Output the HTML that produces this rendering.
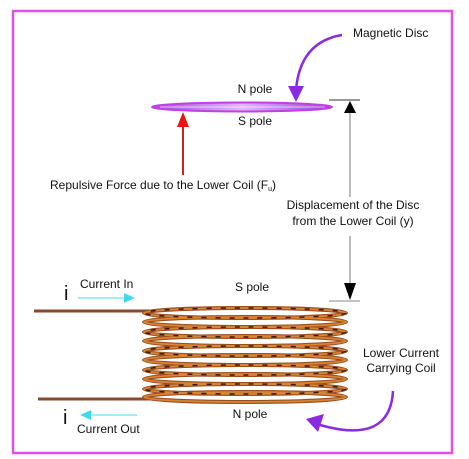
<!DOCTYPE html>
<html><head><meta charset="utf-8"><style>
html,body{margin:0;padding:0;background:#fff}
svg{display:block}
text{font-family:"Liberation Sans",sans-serif;fill:#111}
</style></head><body>
<svg width="469" height="459" viewBox="0 0 469 459">
<defs>
<linearGradient id="disc" x1="0" x2="1" y1="0" y2="0">
<stop offset="0" stop-color="#a64de0"/><stop offset="0.5" stop-color="#e6b4ff"/><stop offset="1" stop-color="#9a3fe0"/>
</linearGradient>
</defs>
<rect x="13" y="11" width="439" height="442" fill="#fff" stroke="#e050e8" stroke-width="2.5"/>

<g>
<ellipse cx="242" cy="107" rx="90" ry="4.5" fill="url(#disc)" stroke="#c040e0" stroke-width="2"/>
<line x1="160" y1="107" x2="325" y2="107" stroke="#fff" stroke-width="1" opacity="0.6"/>
</g>
<text x="255" y="93" font-size="12" text-anchor="middle">N pole</text>
<text x="255" y="125" font-size="12" text-anchor="middle">S pole</text>
<text x="353" y="37" font-size="12">Magnetic Disc</text>
<g>
<path d="M342 35 Q300 42 296 90" fill="none" stroke="#8a2be2" stroke-width="2.5"/>
<polygon points="288,86 304,86 296,102" fill="#8a2be2"/>
</g>

<g>
<line x1="183" y1="124" x2="183" y2="175" stroke="#cc2222" stroke-width="2"/>
<polygon points="177,127 189,127 183,112" fill="#ee1111"/>
</g>
<text x="50" y="189" font-size="12">Repulsive Force due to the Lower Coil (F<tspan font-size="7" dy="2">u</tspan><tspan dy="-2">)</tspan></text>

<g>
<line x1="329" y1="100" x2="360" y2="100" stroke="#333" stroke-width="1"/>
<line x1="329" y1="301" x2="360" y2="301" stroke="#888" stroke-width="1"/>
<line x1="350" y1="110" x2="350" y2="197" stroke="#777" stroke-width="1"/>
<line x1="350" y1="236" x2="350" y2="290" stroke="#777" stroke-width="1"/>
<polygon points="344,113 356,113 350,101" fill="#000"/>
<polygon points="344,283 356,283 350,300" fill="#000"/>
</g>
<text x="353" y="209" font-size="12" text-anchor="middle">Displacement of the Disc</text>
<text x="353" y="225" font-size="12" text-anchor="middle">from the Lower Coil (y)</text>

<g fill="none">
<line x1="34" y1="311" x2="150" y2="311" stroke="#8b4a2e" stroke-width="3"/>
<line x1="38" y1="399" x2="150" y2="399" stroke="#8b4a2e" stroke-width="3"/>
<g stroke="#9a4f22" stroke-width="4">
<ellipse cx="245" cy="313" rx="101" ry="5"/>
<ellipse cx="245" cy="322" rx="101" ry="5"/>
<ellipse cx="245" cy="332" rx="101" ry="5"/>
<ellipse cx="245" cy="341" rx="101" ry="5"/>
<ellipse cx="245" cy="351" rx="101" ry="5"/>
<ellipse cx="245" cy="360" rx="101" ry="5"/>
<ellipse cx="245" cy="370" rx="101" ry="5"/>
<ellipse cx="245" cy="379" rx="101" ry="5"/>
<ellipse cx="245" cy="389" rx="101" ry="5"/>
<ellipse cx="245" cy="397" rx="101" ry="5"/>
</g>
<g stroke="#d98532" stroke-width="1.8">
<ellipse cx="245" cy="313" rx="101" ry="5"/>
<ellipse cx="245" cy="322" rx="101" ry="5"/>
<ellipse cx="245" cy="332" rx="101" ry="5"/>
<ellipse cx="245" cy="341" rx="101" ry="5"/>
<ellipse cx="245" cy="351" rx="101" ry="5"/>
<ellipse cx="245" cy="360" rx="101" ry="5"/>
<ellipse cx="245" cy="370" rx="101" ry="5"/>
<ellipse cx="245" cy="379" rx="101" ry="5"/>
<ellipse cx="245" cy="389" rx="101" ry="5"/>
<ellipse cx="245" cy="397" rx="101" ry="5"/>
</g>
<g stroke="#3a1a0a" stroke-width="1.5" stroke-dasharray="5 9">
<ellipse cx="245" cy="313" rx="101" ry="5"/>
<ellipse cx="245" cy="332" rx="101" ry="5"/>
<ellipse cx="245" cy="351" rx="101" ry="5"/>
<ellipse cx="245" cy="370" rx="101" ry="5"/>
<ellipse cx="245" cy="389" rx="101" ry="5"/>
</g>
</g>
<text x="252" y="291" font-size="12" text-anchor="middle">S pole</text>
<text x="250" y="418" font-size="12" text-anchor="middle">N pole</text>

<text x="64" y="300" font-size="20">i</text>
<text x="80" y="288" font-size="12">Current In</text>
<g>
<line x1="78" y1="298" x2="126" y2="298" stroke="#7fe8f0" stroke-width="1.5"/>
<polygon points="124,293 135,298 124,303" fill="#40d8ec"/>
</g>
<text x="63" y="424" font-size="20">i</text>
<text x="77" y="433" font-size="12">Current Out</text>
<g>
<line x1="90" y1="415" x2="137" y2="415" stroke="#7fe8f0" stroke-width="1.5"/>
<polygon points="91,410 80,415 91,420" fill="#40d8ec"/>
</g>

<text x="401" y="357" font-size="12" text-anchor="middle">Lower Current</text>
<text x="401" y="372" font-size="12" text-anchor="middle">Carrying Coil</text>
<g>
<path d="M393 391 Q390 445 320 425" fill="none" stroke="#8a2be2" stroke-width="2.5"/>
<polygon points="306,419 324,414 318,432" fill="#8a2be2"/>
</g>
</svg>
</body></html>
